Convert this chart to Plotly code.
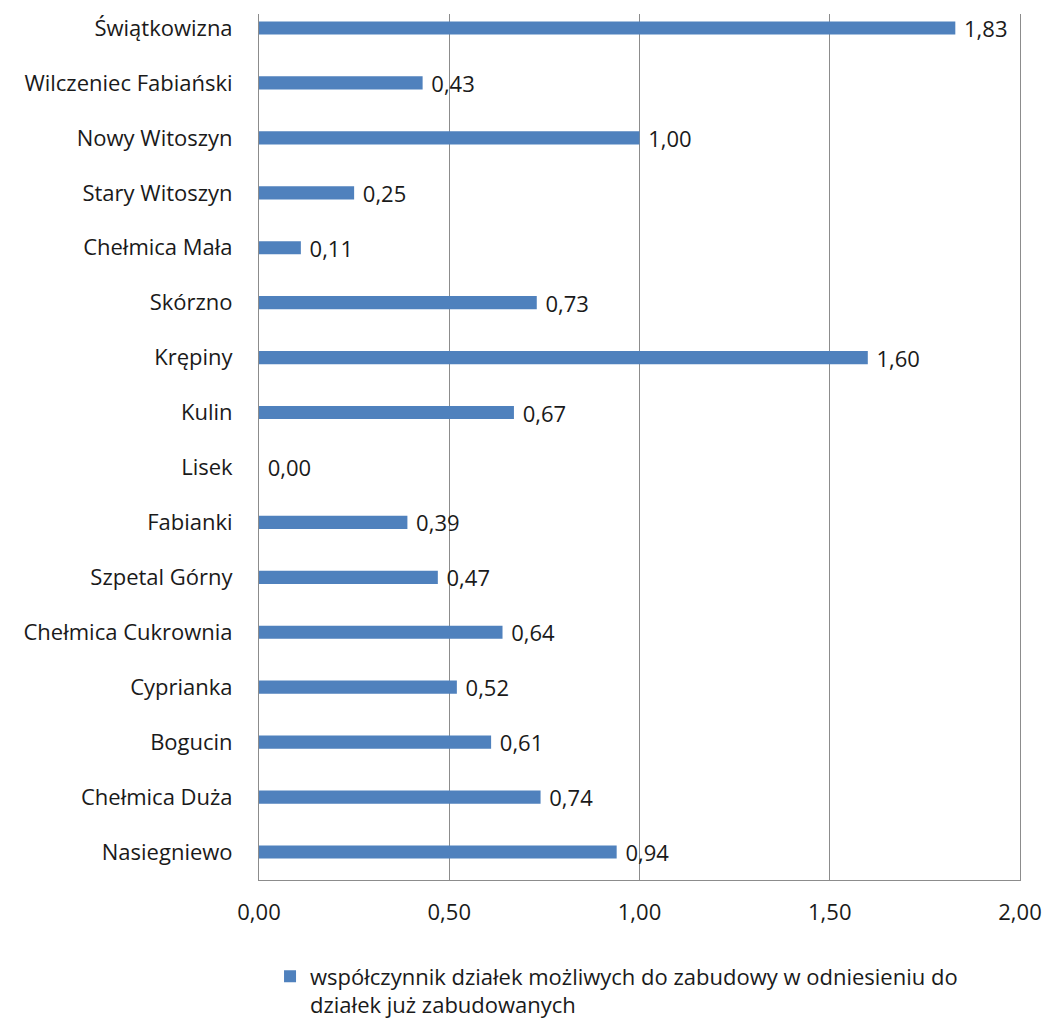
import plotly.graph_objects as go

# Categories listed top to bottom as in the chart
villages = [
    "Świątkowizna", "Wilczeniec Fabiański", "Nowy Witoszyn", "Stary Witoszyn",
    "Chełmica Mała", "Skórzno", "Krępiny", "Kulin", "Lisek", "Fabianki",
    "Szpetal Górny", "Chełmica Cukrownia", "Cyprianka", "Bogucin",
    "Chełmica Duża", "Nasiegniewo",
]
coef = [1.83, 0.43, 1.00, 0.25, 0.11, 0.73, 1.60, 0.67, 0.00, 0.39,
        0.47, 0.64, 0.52, 0.61, 0.74, 0.94]
x_ticks = [0, 0.5, 1.0, 1.5, 2.0]

series_name = ("współczynnik działek możliwych do zabudowy w odniesieniu do<br>"
               "działek już zabudowanych")

FONT = "Open Sans"
FSIZE = 22
BAR_COLOR = "#4F81BD"
GRID = "#8C8C8C"

fig = go.Figure()
fig.add_trace(go.Bar(
    x=coef,
    y=villages,
    orientation="h",
    name=series_name,
    marker=dict(color=BAR_COLOR, line=dict(width=0)),
    width=0.24,
    text=coef,
    texttemplate=" %{x:.2f}",
    textposition="outside",
    constraintext="none",
    textfont=dict(family=FONT, size=FSIZE, color="#1a1a1a"),
    cliponaxis=False,
    showlegend=True,
))

fig.update_layout(
    width=1047,
    height=1021,
    margin=dict(l=259, r=27, t=14, b=141, autoexpand=False),
    plot_bgcolor="white",
    paper_bgcolor="white",
    separators=",.",
    font=dict(family=FONT, size=FSIZE, color="#1a1a1a"),
    bargap=0.76,
    showlegend=True,
    legend=dict(
        orientation="h",
        x=0.0145,
        xanchor="left",
        y=-0.087,
        yanchor="top",
        valign="top",
        font=dict(family=FONT, size=FSIZE, color="#1a1a1a"),
    ),
)

fig.update_xaxes(
    range=[0, 2.0],
    tickvals=x_ticks,
    tickformat=".2f",
    showgrid=True,
    gridcolor=GRID,
    gridwidth=1,
    showline=True,
    linecolor=GRID,
    linewidth=1,
    zeroline=False,
    ticks="",
    ticklabelstandoff=13,
    automargin=False,
)

# mirrored y line gives the right-hand border at 2,00
fig.update_yaxes(
    type="category",
    categoryorder="array",
    categoryarray=villages,
    range=[15.51, -0.255],
    showgrid=False,
    showline=True,
    mirror=True,
    linecolor=GRID,
    linewidth=1,
    ticks="",
    ticklabelstandoff=21,
    automargin=False,
)

# drop the default 8px body margin so the figure fills the window exactly
fig.write_html("out.html", config={"displayModeBar": False},
               post_script="document.body.style.margin='0';")
